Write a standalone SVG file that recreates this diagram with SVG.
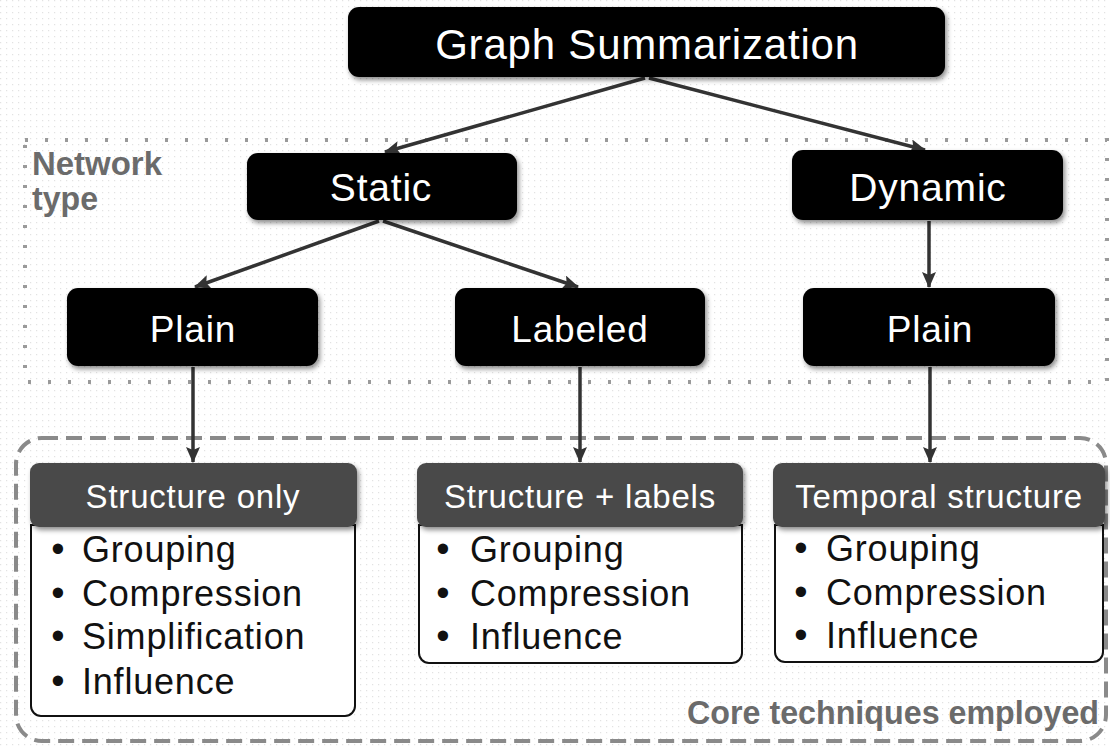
<svg xmlns="http://www.w3.org/2000/svg" width="1110" height="746" viewBox="0 0 1110 746">
<defs>
<pattern id="bg" width="6" height="6" patternUnits="userSpaceOnUse"><rect width="6" height="6" fill="#fff"/><rect x="0" y="0" width="1.2" height="1.2" fill="#e2e2e2"/></pattern>
<filter id="sh" x="-10%" y="-10%" width="125%" height="140%"><feDropShadow dx="2" dy="3" stdDeviation="2.5" flood-color="#000" flood-opacity="0.45"/></filter>
<marker id="ah" viewBox="0 0 16 14" refX="15" refY="7" markerWidth="16" markerHeight="14" orient="auto" markerUnits="userSpaceOnUse"><path d="M0,0 L16,7 L0,14 L3,7 z" fill="#333"/></marker>
<style>
.blk{fill:#000;filter:url(#sh)}
.hdr{fill:#4a4a4a;filter:url(#sh)}
.body{fill:#fff;stroke:#111;stroke-width:2}
.wt{fill:#fff;font-family:"Liberation Sans",Arial,sans-serif;text-anchor:middle;letter-spacing:0.8px}
.it{fill:#111;font-family:"Liberation Sans",Arial,sans-serif;font-size:36px;letter-spacing:0.8px}
.bu{fill:#111;font-family:"Liberation Sans",Arial,sans-serif;font-size:38px;text-anchor:middle}
.lbl{fill:#6b6b6b;font-family:"Liberation Sans",Arial,sans-serif;font-weight:bold;font-size:33px}
.con{stroke:#333;stroke-width:3.5;fill:none}
</style>
</defs>
<rect width="1110" height="746" fill="url(#bg)"/>
<g id="network-type-region">
<rect x="25" y="140" width="1082" height="242" fill="none" stroke="#9a9a9a" stroke-width="4" stroke-dasharray="3,17"/>
<text class="lbl" x="32" y="175" textLength="130" lengthAdjust="spacingAndGlyphs">Network</text>
<text class="lbl" x="32" y="210" textLength="66" lengthAdjust="spacingAndGlyphs">type</text>
</g>
<g id="core-techniques-region">
<rect x="16" y="438" width="1090" height="303" rx="26" fill="none" stroke="#8a8a8a" stroke-width="4" stroke-dasharray="16,8"/>
<text class="lbl" x="1099" y="724" text-anchor="end" textLength="412" lengthAdjust="spacingAndGlyphs">Core techniques employed</text>
</g>
<g id="connectors">
<line class="con" x1="645" y1="78" x2="385" y2="152" marker-end="url(#ah)"/>
<line class="con" x1="649" y1="78" x2="925" y2="150" marker-end="url(#ah)"/>
<line class="con" x1="379" y1="221" x2="195" y2="287" marker-end="url(#ah)"/>
<line class="con" x1="383" y1="221" x2="578" y2="287" marker-end="url(#ah)"/>
<line class="con" x1="929" y1="221" x2="929" y2="287" marker-end="url(#ah)"/>
<line class="con" x1="193" y1="367" x2="193" y2="462" marker-end="url(#ah)"/>
<line class="con" x1="580" y1="367" x2="580" y2="462" marker-end="url(#ah)"/>
<line class="con" x1="930" y1="367" x2="930" y2="462" marker-end="url(#ah)"/>
</g>
<g id="graph-summarization">
<rect class="blk" x="348" y="7" width="597" height="70" rx="11"/>
<text class="wt" x="647" y="59" font-size="42">Graph Summarization</text>
</g>
<g id="static">
<rect class="blk" x="247" y="153" width="270" height="67" rx="11"/>
<text class="wt" x="381" y="201" font-size="39">Static</text>
</g>
<g id="dynamic">
<rect class="blk" x="792" y="150" width="271" height="70" rx="11"/>
<text class="wt" x="928" y="201" font-size="39">Dynamic</text>
</g>
<g id="plain-static">
<rect class="blk" x="67" y="288" width="251" height="78" rx="11"/>
<text class="wt" x="193" y="342" font-size="37">Plain</text>
</g>
<g id="labeled">
<rect class="blk" x="455" y="288" width="250" height="78" rx="11"/>
<text class="wt" x="580" y="342" font-size="37">Labeled</text>
</g>
<g id="plain-dynamic">
<rect class="blk" x="803" y="288" width="252" height="78" rx="11"/>
<text class="wt" x="930" y="342" font-size="37">Plain</text>
</g>
<g id="structure-only">
<path class="body" d="M31,525 H355 V706 a10,10 0 0 1 -10,10 H41 a10,10 0 0 1 -10,-10 Z"/>
<rect class="hdr" x="30" y="463" width="327" height="64" rx="9"/>
<text class="wt" x="193" y="508" font-size="33">Structure only</text>
<text class="bu" x="58" y="562">•</text><text class="it" x="82" y="562">Grouping</text>
<text class="bu" x="58" y="606">•</text><text class="it" x="82" y="606">Compression</text>
<text class="bu" x="58" y="649">•</text><text class="it" x="82" y="649">Simplification</text>
<text class="bu" x="58" y="694">•</text><text class="it" x="82" y="694">Influence</text>
</g>
<g id="structure-labels">
<path class="body" d="M419,525 H742 V653 a10,10 0 0 1 -10,10 H429 a10,10 0 0 1 -10,-10 Z"/>
<rect class="hdr" x="417" y="463" width="326" height="64" rx="9"/>
<text class="wt" x="580" y="508" font-size="33">Structure + labels</text>
<text class="bu" x="443" y="562">•</text><text class="it" x="470" y="562">Grouping</text>
<text class="bu" x="443" y="606">•</text><text class="it" x="470" y="606">Compression</text>
<text class="bu" x="443" y="649">•</text><text class="it" x="470" y="649">Influence</text>
</g>
<g id="temporal-structure">
<path class="body" d="M775,525 H1103 V652 a10,10 0 0 1 -10,10 H785 a10,10 0 0 1 -10,-10 Z"/>
<rect class="hdr" x="773" y="463" width="332" height="64" rx="9"/>
<text class="wt" x="939" y="508" font-size="33">Temporal structure</text>
<text class="bu" x="801" y="561">•</text><text class="it" x="826" y="561">Grouping</text>
<text class="bu" x="801" y="605">•</text><text class="it" x="826" y="605">Compression</text>
<text class="bu" x="801" y="648">•</text><text class="it" x="826" y="648">Influence</text>
</g>
</svg>
